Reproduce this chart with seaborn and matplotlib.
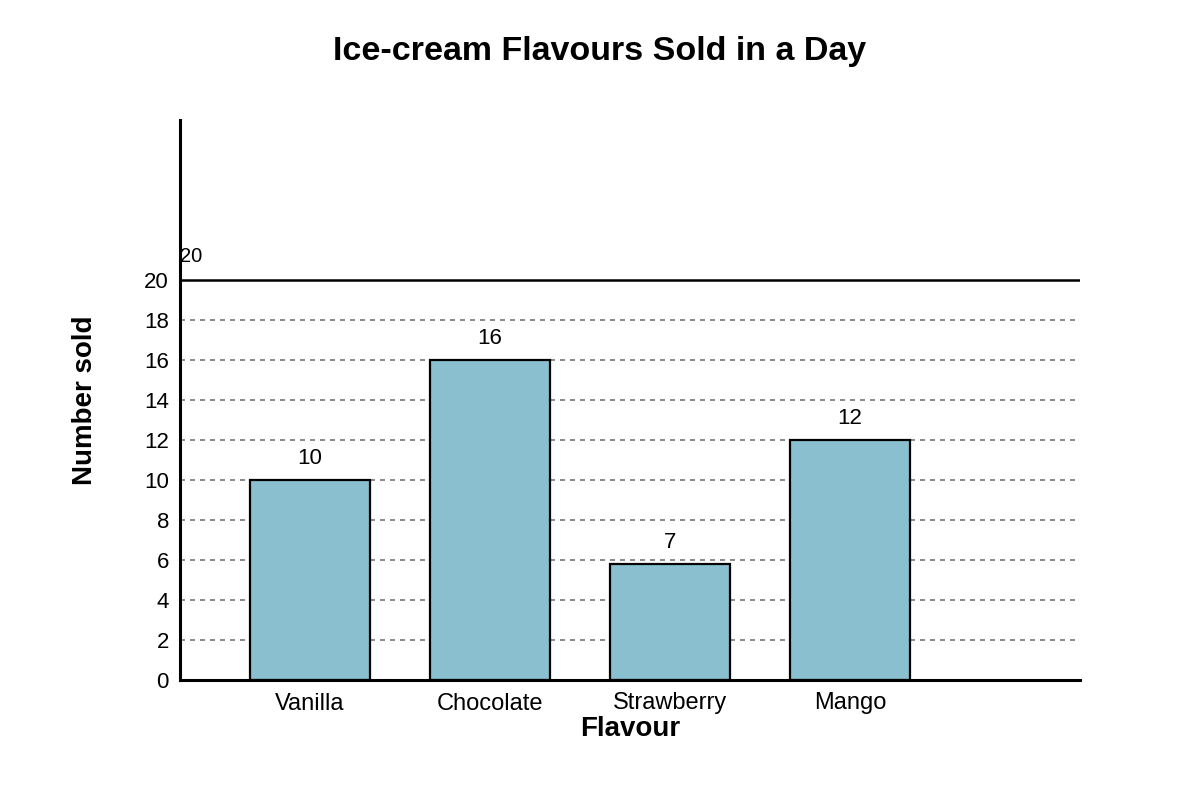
import pandas as pd
import matplotlib
matplotlib.use("Agg")
import matplotlib.pyplot as plt
import seaborn as sns

flavours = ["Vanilla", "Chocolate", "Strawberry", "Mango"]
heights = [10, 16, 5.8, 12]          # bar heights as drawn
value_labels = ["10", "16", "7", "12"]  # labels printed above the bars
y_ticks = [0, 2, 4, 6, 8, 10, 12, 14, 16, 18, 20]

df = pd.DataFrame({"Flavour": flavours, "Number sold": heights})

sns.set_style("white")
plt.rcParams["font.family"] = ["Liberation Sans", "DejaVu Sans"]
plt.rcParams["text.color"] = "black"
plt.rcParams["axes.labelcolor"] = "black"
plt.rcParams["xtick.color"] = "black"
plt.rcParams["ytick.color"] = "black"

fig = plt.figure(figsize=(12, 8), dpi=100)
ax = fig.add_axes([0.15, 0.15, 0.75, 0.70])

# grid lines behind the bars
for t in y_ticks[1:-1]:
    ax.axhline(t, color="#777777", linestyle=(0, (3, 3)), linewidth=1.2, zorder=0)
ax.axhline(20, color="black", linewidth=1.8, zorder=0)

sns.barplot(data=df, x="Flavour", y="Number sold", color="#89bfcf",
            width=0.667, edgecolor="black", linewidth=1.6, saturation=1,
            ax=ax, zorder=2)

for i, (h, lab) in enumerate(zip(heights, value_labels)):
    ax.text(i, h + 0.55, lab, ha="center", va="bottom", fontsize=16)

ax.text(-0.722, 20.7, "20", ha="left", va="bottom", fontsize=14.5)

ax.set_xlim(-0.722, 4.278)
ax.set_ylim(0, 28)
ax.set_yticks(y_ticks)
ax.tick_params(axis="y", length=0, labelsize=16, pad=8)
ax.tick_params(axis="x", length=0, labelsize=17, pad=9)
for lbl in ax.get_yticklabels():
    lbl.set_verticalalignment("center_baseline")

for s in ["top", "right"]:
    ax.spines[s].set_visible(False)
for s in ["left", "bottom"]:
    ax.spines[s].set_color("black")
    ax.spines[s].set_linewidth(2.2)

ax.set_xlabel("Flavour", fontsize=20, fontweight="bold", labelpad=0)
ax.set_ylabel("Number sold", fontsize=20, fontweight="bold", labelpad=33)
ax.xaxis.set_label_coords((630 - 180) / 900, -(716 - 680) / 560)
fig.suptitle("Ice-cream Flavours Sold in a Day", fontsize=24.5, fontweight="bold", y=0.955)

fig.savefig("out.png", dpi=100)
